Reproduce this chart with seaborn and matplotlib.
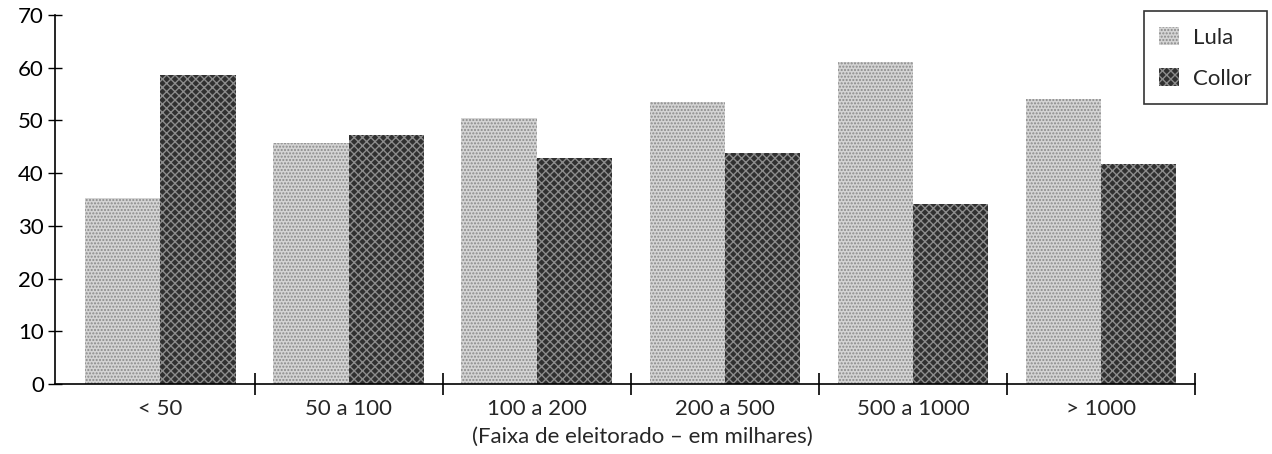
import pandas as pd
import matplotlib.pyplot as plt
import seaborn as sns
from matplotlib.ticker import FixedLocator
from matplotlib.patches import Patch

# Data
faixas = ['< 50', '50 a 100', '100 a 200', '200 a 500', '500 a 1000', '> 1000']
lula = [35.3, 45.7, 50.5, 53.5, 61.1, 54.1]
collor = [58.6, 47.2, 42.9, 43.8, 34.2, 41.8]

data = pd.DataFrame({
    'faixa': faixas * 2,
    'voto': lula + collor,
    'candidato': ['Lula'] * len(faixas) + ['Collor'] * len(faixas),
})

sns.set_style('white')
plt.rcParams['font.family'] = ['Lato', 'DejaVu Sans']
plt.rcParams['hatch.linewidth'] = 1.0

fig = plt.figure(figsize=(12.72, 4.54), dpi=100)
ax = fig.add_axes([0.0432, 0.1542, 0.8963, 0.8128])

sns.barplot(data=data, x='faixa', y='voto', hue='candidato',
            palette={'Lula': '#d4d4d4', 'Collor': '#3c3c3c'},
            width=0.8, gap=0, linewidth=0, saturation=1, legend=False, ax=ax)

# halftone-like textures
styles = {'Lula': ('#d4d4d4', '#8a8a8a', '.....'),
          'Collor': ('#303030', '#8c8c8c', 'xxxx')}
for cont, name in zip(ax.containers, ['Lula', 'Collor']):
    fc, hc, hatch = styles[name]
    for bar in cont:
        bar.set_facecolor(fc)
        bar.set_edgecolor(hc)
        bar.set_hatch(hatch)
        bar.set_linewidth(0)

ax.set_ylim(0, 70)
ax.set_xlim(-0.561, 5.5)
ax.set_yticks(range(0, 71, 10))
ax.tick_params(axis='y', left=True, direction='inout', length=10, width=1,
               labelsize=16, pad=3, colors='black')
ax.tick_params(axis='x', which='major', bottom=True, length=0, labelsize=16, pad=11)
ax.xaxis.set_minor_locator(FixedLocator([0.5, 1.5, 2.5, 3.5, 4.5, 5.5]))
ax.tick_params(axis='x', which='minor', bottom=True, direction='inout', length=16,
               width=1.2, color='black')

for side in ['top', 'right']:
    ax.spines[side].set_visible(False)
for side in ['left', 'bottom']:
    ax.spines[side].set_color('black')
    ax.spines[side].set_linewidth(1.2)

ax.set_ylabel('')
ax.set_xlabel('(Faixa de eleitorado – em milhares)', fontsize=16, labelpad=1)
ax.xaxis.set_label_coords(0.515, -0.115)

# legend box
handles = [Patch(facecolor=styles[n][0], edgecolor=styles[n][1], hatch=styles[n][2],
                 linewidth=0, label=n) for n in ['Lula', 'Collor']]
leg = fig.legend(handles=handles, loc='upper right', bbox_to_anchor=(0.996, 0.975),
                 fontsize=16, frameon=True, fancybox=False, handlelength=0.9,
                 handleheight=0.9, handletextpad=0.6, labelspacing=0.9,
                 borderpad=0.7, borderaxespad=0)
leg.get_frame().set_edgecolor('black')
leg.get_frame().set_linewidth(1.2)

plt.savefig('out.png', dpi=100)
